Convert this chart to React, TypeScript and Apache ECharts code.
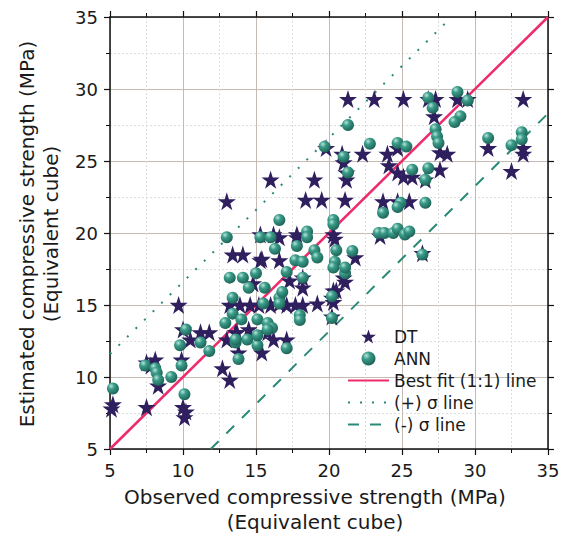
import React, { useEffect, useRef } from "react";
import * as echarts from "echarts";

const axisTicks = [5, 10, 15, 20, 25, 30, 35];

const dtPoints: number[][] = [
  [5.2, 8.1], [5.1, 7.8], [7.5, 7.9], [10.0, 7.9], [10.1, 7.2], [10.2, 7.6],
  [7.5, 11.0], [8.1, 11.2], [7.8, 10.8], [8.3, 9.4], [9.7, 15.0], [10.0, 13.3],
  [9.9, 11.2], [10.5, 12.6], [11.2, 13.1], [11.8, 13.1], [12.7, 10.6], [13.2, 9.8],
  [13.0, 12.6], [13.7, 13.1], [13.8, 11.7], [13.6, 13.1], [14.5, 13.3], [15.8, 13.1],
  [15.4, 11.7], [16.2, 12.6], [17.1, 12.6],
  [13.2, 15.0], [13.9, 15.0], [14.6, 15.0], [15.2, 15.0], [16.0, 15.0], [16.6, 15.1],
  [17.1, 15.0], [17.7, 15.0], [18.2, 15.0], [19.2, 15.1], [20.3, 15.2], [20.2, 15.5],
  [14.8, 16.5], [17.3, 16.7], [18.2, 16.9], [18.2, 16.2], [21.0, 16.9], [21.1, 16.6],
  [20.3, 16.0], [20.5, 16.0], [20.2, 14.2], [16.6, 18.1], [15.3, 18.1], [13.4, 18.5],
  [14.1, 18.5], [15.4, 18.2], [15.3, 19.9], [16.2, 19.9], [17.8, 19.9], [16.6, 19.7],
  [20.3, 19.9], [21.8, 18.3], [23.5, 19.8], [26.4, 18.6], [13.0, 22.2], [16.0, 23.7],
  [18.4, 22.3], [19.5, 22.3], [21.1, 22.3], [19.0, 23.7], [17.8, 19.7], [20.4, 19.6],
  [19.8, 25.9], [20.9, 25.5], [21.0, 24.9], [21.2, 24.2], [21.2, 23.7], [22.3, 25.5],
  [24.0, 25.5], [24.7, 25.9], [24.1, 24.7], [24.7, 24.2], [25.1, 23.9], [25.7, 23.9],
  [26.6, 23.7], [27.6, 24.4], [27.6, 25.6], [28.1, 25.5], [27.2, 28.1], [30.9, 25.9],
  [33.3, 25.9], [33.3, 25.5], [32.5, 24.3], [23.7, 22.2], [24.7, 22.2], [25.5, 22.2],
  [21.3, 29.3], [23.1, 29.3], [25.1, 29.3], [26.8, 29.3], [27.3, 29.3], [28.8, 29.3],
  [29.5, 29.3], [33.3, 29.3]
];

const annPoints: number[][] = [
  [5.2, 9.2], [7.4, 10.8], [8.1, 10.6], [8.2, 10.3], [8.3, 9.8], [9.2, 10.0],
  [9.8, 12.2], [9.9, 10.8], [10.1, 8.8], [10.2, 13.3], [11.2, 12.4], [11.8, 11.8],
  [12.9, 13.75], [13.4, 14.4], [14.0, 14.0], [13.6, 12.4], [13.8, 11.25], [14.4, 12.6],
  [13.6, 12.6], [15.1, 12.2], [17.1, 12.0], [15.1, 12.9], [15.1, 14.0], [15.8, 13.75],
  [16.1, 13.4], [15.8, 13.3], [18.0, 14.3], [18.0, 13.95], [13.4, 15.5], [15.5, 15.1],
  [16.6, 15.5], [16.6, 15.1], [16.8, 15.9], [13.2, 16.9], [14.1, 16.9], [15.0, 17.2],
  [14.5, 16.2], [15.6, 16.2], [17.1, 17.3], [18.2, 16.9], [20.2, 15.6], [20.2, 14.1],
  [21.1, 17.2], [13.0, 19.7], [15.3, 19.7], [16.0, 19.7], [16.6, 20.9], [16.3, 18.9],
  [17.8, 19.1], [18.5, 20.1], [18.5, 19.7], [19.0, 18.8], [19.2, 18.3], [17.7, 18.1],
  [18.2, 18.0], [20.5, 18.8], [21.6, 18.75], [20.4, 18.0], [20.3, 17.6], [21.1, 17.6],
  [20.3, 20.9], [20.3, 20.6], [23.4, 20.0], [23.8, 20.0], [24.4, 20.0], [24.7, 20.3],
  [25.2, 19.9], [25.5, 20.1], [26.4, 18.5], [23.7, 21.4], [24.9, 22.1], [24.7, 21.8],
  [26.6, 22.1], [21.3, 24.2], [25.7, 24.4], [26.8, 24.5], [26.6, 23.7], [19.7, 26.0],
  [21.0, 25.3], [22.8, 26.2], [24.7, 26.25], [25.3, 26.0], [27.3, 27.2], [27.4, 26.7],
  [27.5, 26.25], [21.3, 27.5], [26.8, 29.4], [27.1, 28.7], [28.8, 29.8], [29.5, 29.2],
  [29.0, 28.1], [28.6, 27.7], [30.9, 26.6], [33.2, 27.0], [33.2, 26.5], [32.5, 26.1]
];

const bestFitLine = [[5, 5], [35, 35]];
const plusSigmaLine = [[5, 11.6], [28.4, 35]];
const minusSigmaLine = [[11.9, 5], [35, 28.3]];

const xTitle = ["Observed compressive strength (MPa)", "(Equivalent cube)"];
const yTitle = ["Estimated compressive strength (MPa)", "(Equivalent cube)"];

const FONT = "DejaVu Sans";

export default function App() {
  const ref = useRef<HTMLDivElement>(null);
  useEffect(() => {
    if (!ref.current) return;
    const chart = echarts.init(ref.current, undefined, { renderer: "svg" });
    const min = axisTicks[0];
    const max = axisTicks[axisTicks.length - 1];
    const interval = axisTicks[1] - axisTicks[0];
    const baseAxis = (show: boolean) => ({
      type: "value",
      min,
      max,
      interval,
      axisLine: { show: true, onZero: false, lineStyle: { color: "#111", width: 1.5 } },
      axisTick: { show: true, inside: false, length: 6, lineStyle: { color: "#111", width: 1.2 } },
      minorTick: { show: true, splitNumber: 2, length: 4, lineStyle: { color: "#111", width: 1 } },
      axisLabel: { show, fontFamily: FONT, fontSize: 18, color: "#1a1a1a", margin: 12 },
      splitLine: { show, lineStyle: { color: "#c4bcb4", width: 1 } },
      minorSplitLine: { show, lineStyle: { color: "#dcdcdc", width: 1, type: [2, 2] } },
    });
    const ballColor = new echarts.graphic.RadialGradient(0.35, 0.3, 0.75, [
      { offset: 0, color: "#b7e4d8" },
      { offset: 0.35, color: "#3a9c89" },
      { offset: 1, color: "#1c5f54" },
    ]);
    const hidden = "rgba(0,0,0,0)";
    chart.setOption({
      animation: false,
      backgroundColor: "#ffffff",
      grid: { left: 110, right: 21, top: 17, bottom: 88, containLabel: false },
      xAxis: [
        { ...baseAxis(true), position: "bottom" },
        { ...baseAxis(false), position: "top" },
      ],
      yAxis: [
        { ...baseAxis(true), position: "left" },
        { ...baseAxis(false), position: "right" },
      ],
      legend: {
        orient: "vertical",
        left: 342,
        top: 323,
        itemWidth: 41,
        itemHeight: 14,
        itemGap: 5,
        textStyle: { fontFamily: FONT, fontSize: 17, color: "#1a1a1a" },
        data: [
          { name: "DT" },
          { name: "ANN" },
          { name: "Best fit (1:1) line" },
          { name: "(+) σ line" },
          { name: "(-) σ line" },
        ],
      },
      series: [
        {
          name: "Best fit (1:1) line",
          type: "line",
          data: bestFitLine,
          showSymbol: false,
          symbol: "none",
          lineStyle: { color: "#ec2c6c", width: 2.6 },
          itemStyle: { color: hidden, borderColor: hidden, opacity: 0 },
          z: 1,
        },
        {
          name: "(+) σ line",
          type: "line",
          data: plusSigmaLine,
          showSymbol: false,
          symbol: "none",
          lineStyle: { color: "#2a8a78", width: 2, type: [2, 10] },
          itemStyle: { color: hidden, borderColor: hidden, opacity: 0 },
          z: 1,
        },
        {
          name: "(-) σ line",
          type: "line",
          data: minusSigmaLine,
          showSymbol: false,
          symbol: "none",
          lineStyle: { color: "#2a8a78", width: 2, type: [11, 11] },
          itemStyle: { color: hidden, borderColor: hidden, opacity: 0 },
          z: 1,
        },
        {
          name: "DT",
          type: "scatter",
          symbol: "path://M50,0 L61.8,35.5 L99,35.5 L69,57.5 L80.4,93 L50,71 L19.6,93 L31,57.5 L1,35.5 L38.2,35.5 Z",
          symbolSize: 18,
          data: dtPoints,
          itemStyle: { color: "#2f1f5e", opacity: 1 },
          z: 2,
        },
        {
          name: "ANN",
          type: "scatter",
          symbol: "circle",
          symbolSize: 12,
          data: annPoints,
          itemStyle: { color: ballColor, opacity: 1 },
          z: 3,
        },
      ],
      graphic: [
        {
          type: "text",
          x: 315,
          y: 497,
          style: { text: xTitle[0], font: `20px "${FONT}"`, fill: "#1a1a1a", textAlign: "center", textVerticalAlign: "middle" },
        },
        {
          type: "text",
          x: 315,
          y: 522,
          style: { text: xTitle[1], font: `20px "${FONT}"`, fill: "#1a1a1a", textAlign: "center", textVerticalAlign: "middle" },
        },
        {
          type: "text",
          x: 27,
          y: 234,
          rotation: Math.PI / 2,
          style: { text: yTitle[0], font: `20px "${FONT}"`, fill: "#1a1a1a", textAlign: "center", textVerticalAlign: "middle" },
        },
        {
          type: "text",
          x: 51,
          y: 234,
          rotation: Math.PI / 2,
          style: { text: yTitle[1], font: `20px "${FONT}"`, fill: "#1a1a1a", textAlign: "center", textVerticalAlign: "middle" },
        },
      ],
    });
    return () => chart.dispose();
  }, []);
  return <div ref={ref} style={{ width: 569, height: 537, position: "absolute", left: 0, top: 0 }} />;
}
